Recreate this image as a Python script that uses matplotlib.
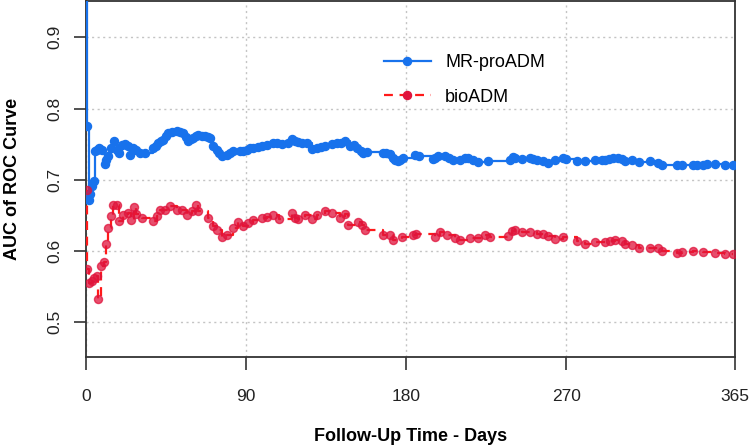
import matplotlib
matplotlib.use("Agg")
import matplotlib.pyplot as plt
from matplotlib.lines import Line2D

plt.rcParams['font.family'] = ['Liberation Sans', 'DejaVu Sans']

# ---------------- data ----------------
mr_days = [0, 0.7, 1.5, 2.5, 3.5, 4.5, 5.0, 6.0, 7.5, 9.0, 10.5, 11.5, 12.5, 14.0, 16.0,
           17.5, 18.5, 20.0, 22.0, 23.8, 24.8, 26.6, 28.0, 30.4, 33.0, 37.9, 39.5, 40.7,
           42.0, 43.5, 45.0, 46.3, 48.5, 51.0, 53.0, 54.7, 56.0, 57.5, 59.0, 60.3, 62.0,
           63.2, 65.0, 66.9, 68.5, 69.7, 71.6, 73.5, 75.0, 76.3, 79.1, 81.0, 82.8, 86.6,
           88.5, 90.4, 92.0, 94.1, 96.5, 98.8, 102.0, 105.3, 107.3, 110.0, 113.5, 115.7,
           117.5, 119.5, 121.3, 124.1, 126.9, 129.8, 132.0, 134.4, 138.2, 141.0, 143.5,
           145.7, 148.5, 150.5, 152.3, 154.5, 156.0, 158.0, 167.2, 169.0, 171.0, 172.5,
           173.8, 175.5, 176.6, 178.5, 185.0, 187.0, 195.3, 196.5, 198.1, 201.9, 204.0,
           206.6, 210.3, 213.0, 215.0, 217.8, 220.6, 226.3, 238.5, 240.3, 241.5, 245.0,
           249.7, 251.5, 253.5, 257.2, 260.0, 263.8, 268.5, 270.0, 276.0, 280.6, 286.3,
           290.0, 291.9, 294.0, 296.6, 299.0, 301.3, 303.1, 306.9, 311.2, 317.2, 321.9,
           323.8, 332.2, 335.1, 341.6, 343.5, 347.2, 349.5, 353.8, 359.4, 364.1]
mr_auc = [1.0, 0.775, 0.672, 0.680, 0.691, 0.698, 0.740, 0.742, 0.745, 0.742, 0.722, 0.728,
          0.734, 0.744, 0.754, 0.742, 0.738, 0.749, 0.750, 0.747, 0.735, 0.744, 0.742,
          0.738, 0.738, 0.745, 0.748, 0.752, 0.754, 0.756, 0.762, 0.766, 0.767, 0.768,
          0.767, 0.766, 0.760, 0.754, 0.757, 0.759, 0.762, 0.763, 0.762, 0.761, 0.760,
          0.759, 0.747, 0.742, 0.737, 0.733, 0.735, 0.738, 0.740, 0.740, 0.741, 0.742,
          0.744, 0.745, 0.746, 0.748, 0.749, 0.751, 0.751, 0.750, 0.752, 0.757, 0.754,
          0.753, 0.752, 0.751, 0.743, 0.745, 0.746, 0.748, 0.750, 0.751, 0.752, 0.754,
          0.747, 0.749, 0.745, 0.740, 0.738, 0.739, 0.738, 0.737, 0.736, 0.731, 0.728,
          0.726, 0.728, 0.731, 0.735, 0.734, 0.729, 0.731, 0.733, 0.734, 0.731, 0.728,
          0.728, 0.730, 0.731, 0.728, 0.725, 0.726, 0.728, 0.732, 0.730, 0.729, 0.730,
          0.729, 0.727, 0.726, 0.724, 0.727, 0.730, 0.729, 0.726, 0.726, 0.727, 0.728,
          0.728, 0.729, 0.730, 0.730, 0.729, 0.726, 0.727, 0.725, 0.726, 0.724, 0.721,
          0.720, 0.720, 0.720, 0.721, 0.721, 0.722, 0.722, 0.720, 0.720]

bio_days = [0.4, 0.8, 1.8, 3.5, 4.5, 6.3, 6.8, 8.5, 10.3, 11.5, 12.6, 13.9, 15.4, 17.5,
            18.7, 20.6, 23.4, 25.4, 26.8, 28.0, 31.3, 37.9, 39.8, 41.6, 44.4, 47.2, 51.0,
            53.8, 56.6, 59.4, 61.9, 63.2, 68.8, 71.6, 73.5, 76.3, 79.1, 82.8, 85.6, 88.4,
            91.2, 94.1, 98.8, 102.0, 105.3, 108.7, 115.7, 117.5, 119.5, 123.2, 126.9,
            129.8, 134.4, 138.2, 142.8, 145.7, 147.5, 153.2, 155.0, 157.0, 167.2, 171.0,
            172.8, 177.5, 184.0, 185.5, 196.3, 199.1, 202.8, 207.6, 210.3, 215.8, 220.6,
            224.6, 227.4, 237.6, 239.5, 241.4, 245.0, 249.7, 253.5, 257.2, 260.0, 263.8,
            268.5, 276.0, 280.6, 286.3, 291.9, 294.7, 297.5, 301.3, 303.1, 306.9, 311.2,
            317.2, 321.9, 323.8, 332.2, 335.1, 341.6, 347.2, 353.8, 359.4, 364.1]
bio_auc = [0.686, 0.574, 0.555, 0.558, 0.562, 0.565, 0.532, 0.579, 0.584, 0.610, 0.632,
           0.649, 0.664, 0.664, 0.642, 0.651, 0.653, 0.644, 0.661, 0.652, 0.646, 0.642,
           0.649, 0.658, 0.657, 0.663, 0.658, 0.658, 0.651, 0.656, 0.665, 0.656, 0.646,
           0.635, 0.630, 0.620, 0.623, 0.632, 0.640, 0.635, 0.639, 0.643, 0.646, 0.648,
           0.650, 0.645, 0.653, 0.646, 0.645, 0.650, 0.645, 0.651, 0.656, 0.653, 0.646,
           0.652, 0.636, 0.640, 0.637, 0.630, 0.623, 0.623, 0.616, 0.620, 0.623, 0.624,
           0.620, 0.626, 0.623, 0.618, 0.616, 0.618, 0.618, 0.622, 0.620, 0.621, 0.628,
           0.630, 0.626, 0.626, 0.624, 0.624, 0.621, 0.617, 0.620, 0.614, 0.610, 0.612,
           0.612, 0.614, 0.616, 0.614, 0.610, 0.608, 0.604, 0.604, 0.604, 0.600, 0.597,
           0.599, 0.600, 0.599, 0.597, 0.595, 0.595]

x_ticks = [0, 90, 180, 270, 365]
y_ticks = [0.5, 0.6, 0.7, 0.8, 0.9]
labels = ["MR-proADM", "bioADM"]

# ---------------- style ----------------
BLUE = '#1872EC'
RED_LINE = '#FF1A1A'
RED_MK = '#E0143C'
MS = 5.8

fig = plt.figure(figsize=(7.49, 4.48), dpi=100)
ax = fig.add_axes([86/749, 1 - 357/448, 649/749, 356/448])

ax.plot(mr_days, mr_auc, drawstyle='steps-post', color=BLUE, lw=1.6, zorder=3)
ax.plot(mr_days, mr_auc, ls='none', marker='o', ms=MS, color=BLUE, mec=BLUE, zorder=4)

ax.plot(bio_days, bio_auc, drawstyle='steps-post', color=RED_LINE, lw=1.6,
        ls=(0, (4, 3)), zorder=3)
ax.plot(bio_days, bio_auc, ls='none', marker='o', ms=MS, color=RED_MK, mec=RED_MK,
        alpha=0.75, zorder=4)

ax.set_xlim(0, 365)
ax.set_ylim(0.451, 0.951)
ax.set_xticks(x_ticks)
ax.set_yticks(y_ticks)
ax.set_yticklabels([f"{v:.1f}" for v in y_ticks], rotation=90, va='center')

ax.grid(True, color='#C4C4C4', ls=(0, (1.5, 2.5)), lw=1.0, zorder=0)

for s in ax.spines.values():
    s.set_color('#333333')
    s.set_linewidth(1.3)

ax.tick_params(axis='both', direction='out', length=9, width=1.2, color='#333333',
               labelsize=12.5, labelcolor='#222222')
ax.tick_params(axis='x', pad=14)
ax.tick_params(axis='y', pad=8)

ax.set_xlabel("Follow-Up Time - Days", fontsize=13, fontweight='bold', labelpad=17)
ax.set_ylabel("AUC of ROC Curve", fontsize=13, fontweight='bold', labelpad=19)

handles = [
    Line2D([0], [0], color=BLUE, lw=1.6, marker='o', ms=MS, mfc=BLUE, mec=BLUE),
    Line2D([0], [0], color=RED_LINE, lw=1.6, ls=(0, (4, 3)), marker='o', ms=MS,
           mfc=RED_MK, mec=RED_MK),
]
ax.legend(handles, labels, loc='upper left', bbox_to_anchor=(0.459, 0.85),
          frameon=False, fontsize=13, handlelength=2.6, handletextpad=0.8,
          labelspacing=0.95, borderpad=0, borderaxespad=0)

fig.savefig("out.png", dpi=100)
